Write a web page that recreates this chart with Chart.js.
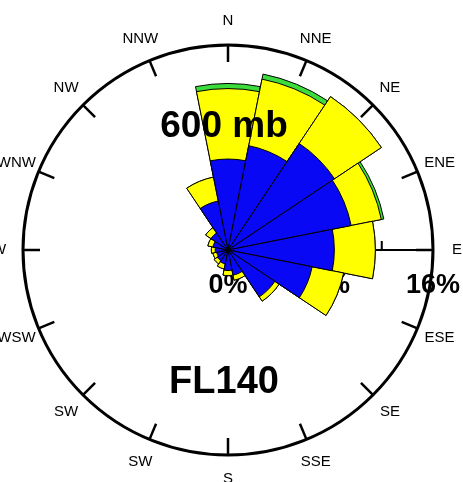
<!DOCTYPE html>
<html>
<head>
<meta charset="utf-8">
<script src="https://cdn.jsdelivr.net/npm/chart.js@4.4.1/dist/chart.umd.min.js"></script>
<style>
	html, body { margin: 0; padding: 0; background: #fff; }
	#wrap { width: 463px; height: 482px; }
</style>
</head>
<body>
<div id="wrap"><canvas id="rose" width="463" height="482"></canvas></div>
<script>
// direction labels as printed (clockwise from north)
const directions = ['N', 'NNE', 'NE', 'ENE', 'E', 'ESE', 'SE', 'SSE', 'S', 'SW', 'SW', 'WSW', 'W', 'WNW', 'NW', 'NNW']

// frequency (%) per speed band
const blueBand = [7.1, 8.3, 10.0, 9.8, 8.3, 6.7, 4.4, 2.0, 1.6, 1.1, 1.0, 0.9, 1.0, 1.2, 1.6, 3.9]
const yellowBand = [5.5, 5.3, 4.4, 2.4, 3.2, 2.5, 0.4, 0.4, 0.4, 0.4, 0.3, 0.3, 0.3, 0.4, 0.5, 1.9]
const greenBand = [0.4, 0.4, 0, 0.2, 0, 0, 0, 0, 0, 0, 0, 0, 0, 0, 0, 0]

const axisTicks = [4, 8, 12]
const axisLabels = [0, 8, 16]
const maxPct = 16

const levelTitle = '600 mb'
const flightLevel = 'FL140'

// bars are overlaid from the center, so each layer gets the running total
const toBlue = blueBand.map((v) => v)
const toYellow = blueBand.map((v, i) => v + yellowBand[i])
const toGreen = toYellow.map((v, i) => v + greenBand[i])

const font = '"Liberation Sans", Arial, sans-serif'

const decorations = {
	id: 'decorations',
	beforeDatasetsDraw(chart) {
		const { ctx } = chart
		const scale = chart.scales.r
		const cx = scale.xCenter
		const cy = scale.yCenter
		const R = scale.getDistanceFromCenterForValue(maxPct)
		ctx.save()
		ctx.strokeStyle = '#000'
		ctx.lineWidth = 2
		ctx.beginPath()
		ctx.moveTo(cx, cy)
		ctx.lineTo(cx + R, cy)
		axisTicks.forEach((t) => {
			const d = scale.getDistanceFromCenterForValue(t)
			ctx.moveTo(cx + d, cy)
			ctx.lineTo(cx + d, cy - 9)
		})
		ctx.stroke()
		ctx.fillStyle = '#000'
		ctx.font = 'bold 27px ' + font
		ctx.textAlign = 'center'
		ctx.textBaseline = 'alphabetic'
		axisLabels.forEach((t) => {
			const d = scale.getDistanceFromCenterForValue(t)
			ctx.fillText(t + '%', cx + d, cy + 43)
		})
		ctx.restore()
	},
	afterDatasetsDraw(chart) {
		const { ctx } = chart
		const scale = chart.scales.r
		const cx = scale.xCenter
		const cy = scale.yCenter
		const R = scale.getDistanceFromCenterForValue(maxPct)
		ctx.save()
		ctx.strokeStyle = '#000'
		ctx.lineWidth = 3
		ctx.beginPath()
		ctx.arc(cx, cy, R, 0, Math.PI * 2)
		ctx.stroke()

		ctx.lineWidth = 2.5
		ctx.fillStyle = '#000'
		ctx.font = '15px ' + font
		ctx.textAlign = 'center'
		ctx.textBaseline = 'middle'
		directions.forEach((label, i) => {
			const a = (i * 22.5) * Math.PI / 180 - Math.PI / 2
			const c = Math.cos(a)
			const s = Math.sin(a)
			ctx.beginPath()
			ctx.moveTo(cx + c * R, cy + s * R)
			ctx.lineTo(cx + c * (R - 17), cy + s * (R - 17))
			ctx.stroke()
			ctx.fillText(label, cx + c * 229, cy + s * 229)
		})

		ctx.textBaseline = 'alphabetic'
		ctx.font = 'bold 37px ' + font
		ctx.fillText(levelTitle, cx - 4, cy - 113)
		ctx.font = 'bold 38px ' + font
		ctx.fillText(flightLevel, cx - 4, cy + 143)
		ctx.restore()
	}
}

new Chart(document.getElementById('rose'), {
	type: 'polarArea',
	data: {
		labels: directions,
		datasets: [
			{ data: toBlue, backgroundColor: '#0808F4', borderColor: '#000', borderWidth: 1 },
			{ data: toYellow, backgroundColor: '#FFFF00', borderColor: '#000', borderWidth: 1 },
			{ data: toGreen, backgroundColor: '#3CDC3C', borderColor: '#000', borderWidth: 1 }
		]
	},
	options: {
		responsive: false,
		devicePixelRatio: 1,
		animation: false,
		layout: { padding: { left: 23, right: 30, top: 45, bottom: 27 } },
		plugins: {
			legend: { display: false },
			tooltip: { enabled: false }
		},
		scales: {
			r: {
				min: 0,
				max: maxPct,
				startAngle: -11.25,
				ticks: { display: false },
				grid: { display: false },
				angleLines: { display: false },
				pointLabels: { display: false }
			}
		}
	},
	plugins: [decorations]
})
</script>
</body>
</html>
